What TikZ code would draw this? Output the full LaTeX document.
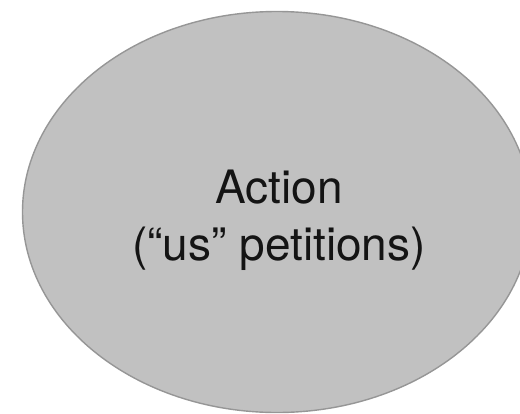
\documentclass[tikz,border=0pt]{standalone}
\usepackage{fontspec}
\setmainfont{TeX Gyre Heros}
\definecolor{blobfill}{RGB}{193,193,193}
\definecolor{blobline}{RGB}{150,150,150}
\tikzset{
  blob/.style={fill=blobfill, draw=blobline, line width=1.4pt},
  lbl/.style={anchor=base, inner sep=0pt, font=\fontsize{46}{56}\selectfont, text=black!92}
}
\begin{document}
\begin{tikzpicture}[x=1pt,y=1pt]
\useasboundingbox (0,0) rectangle (520,-413);
\fill[white] (0,0) rectangle (520,-413);
\begin{scope}
\clip (0,0) rectangle (520,-413);
\draw[blob] (277,-212) ellipse [x radius=254.5, y radius=200.5];
\end{scope}
\node[lbl] (l1) at (279,-203) {Action};
\node[lbl] (l2) at (279,-260) {(“us” petitions)};
\end{tikzpicture}
\end{document}
